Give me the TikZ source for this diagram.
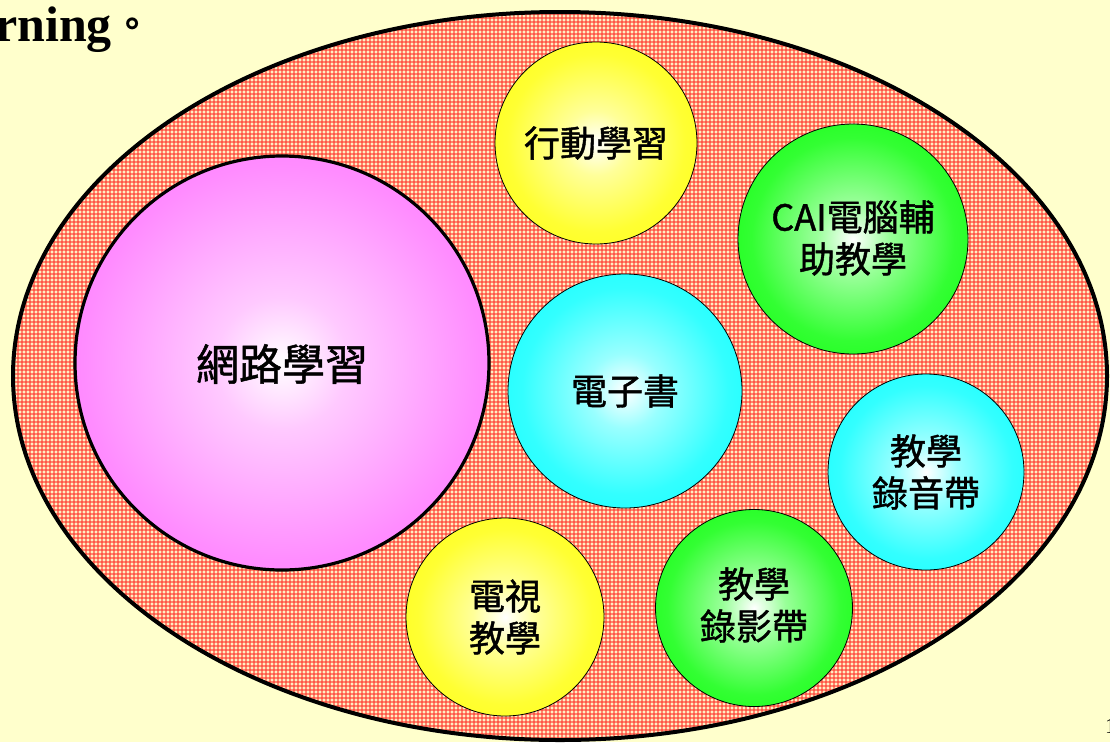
\documentclass[tikz,border=0pt]{standalone}
\usepackage{fontspec}
\setmainfont{Liberation Serif}
\newfontfamily\cjk[FakeBold=1.2]{Noto Sans CJK TC}
\newfontfamily\cjkplain{Noto Sans CJK TC}
\definecolor{bgcream}{RGB}{255,255,204}
\definecolor{gridbg}{RGB}{255,238,195}
\definecolor{gridred}{RGB}{255,50,40}
\definecolor{cyel}{RGB}{255,255,0}
\definecolor{cgrn}{RGB}{0,255,0}
\definecolor{ccyn}{RGB}{0,255,255}
\definecolor{cmag}{RGB}{255,102,255}
\pgfdeclareradialshading{yball}{\pgfpoint{0bp}{0bp}}{color(0bp)=(white); color(8bp)=(white!60!cyel); color(22bp)=(white!20!cyel); color(40bp)=(cyel); color(50bp)=(cyel)}
\pgfdeclareradialshading{gball}{\pgfpoint{0bp}{0bp}}{color(0bp)=(white); color(8bp)=(white!60!cgrn); color(22bp)=(white!20!cgrn); color(40bp)=(cgrn); color(50bp)=(cgrn)}
\pgfdeclareradialshading{cball}{\pgfpoint{0bp}{0bp}}{color(0bp)=(white); color(8bp)=(white!60!ccyn); color(22bp)=(white!20!ccyn); color(40bp)=(ccyn); color(50bp)=(ccyn)}
\pgfdeclareradialshading{mball}{\pgfpoint{0bp}{0bp}}{color(0bp)=(white); color(8bp)=(white!65!cmag); color(24bp)=(white!25!cmag); color(42bp)=(cmag); color(50bp)=(cmag)}
\tikzset{
  ball/.style={circle, draw=black, line width=0.8pt, inner sep=0pt, minimum size=#1},
  lbl/.style={font=\cjk\fontsize{36}{42}\selectfont, align=center, text=black, inner sep=0pt},
  gridline/.style={draw=gridred, draw opacity=0.55, line width=1.6pt},
}
\begin{document}
\begin{tikzpicture}[x=1pt,y=-1pt]
\useasboundingbox (0,0) rectangle (1110,742);
\fill[bgcream] (0,0) rectangle (1110,742);
% outer ellipse with grid fill
\begin{scope}
\clip (560,376) ellipse [x radius=547, y radius=364];
\fill[gridbg] (0,0) rectangle (1110,742);
\foreach \x in {2,6,...,1110} \draw[gridline] (\x,0) -- (\x,742);
\foreach \y in {2,6,...,742} \draw[gridline] (0,\y) -- (1110,\y);
\end{scope}
\path[draw=black, line width=4pt] (560,376) ellipse [x radius=547, y radius=364];
% title fragment
\node[anchor=base west, inner sep=0pt, font=\fontsize{50}{50}\selectfont\bfseries] (title) at (-5,41) {rning\hspace{3pt}\raisebox{4pt}{\cjkplain\fontsize{36}{36}\selectfont 。}};
% page number fragment
\node[anchor=north west, inner sep=0pt, font=\fontsize{22}{22}\selectfont] (pg) at (1105,719) {1};
% circles
\node[ball=414pt, shading=mball, line width=3.2pt] (web) at (282,363) {};
\node[ball=202pt, shading=yball] (mobile) at (596,143) {};
\node[ball=230pt, shading=gball] (cai) at (853,239) {};
\node[ball=234pt, shading=cball] (ebook) at (625,391) {};
\node[ball=196pt, shading=cball] (audio) at (926,472) {};
\node[ball=197pt, shading=gball] (video) at (754,608) {};
\node[ball=198pt, shading=yball] (tv) at (505,617) {};
% labels
\node[lbl, font=\cjk\fontsize{43}{43}\selectfont] (tweb) at (282,364) {網路學習};
\node[lbl] (tmobile) at (596,143) {行動學習};
\node[lbl] (tcai) at (853,238) {CAI電腦輔\\助教學};
\node[lbl] (tebook) at (625,391) {電子書};
\node[lbl] (taudio) at (926,472) {教學\\錄音帶};
\node[lbl] (tvideo) at (754,605) {教學\\錄影帶};
\node[lbl] (ttv) at (505,617) {電視\\教學};
\end{tikzpicture}
\end{document}
